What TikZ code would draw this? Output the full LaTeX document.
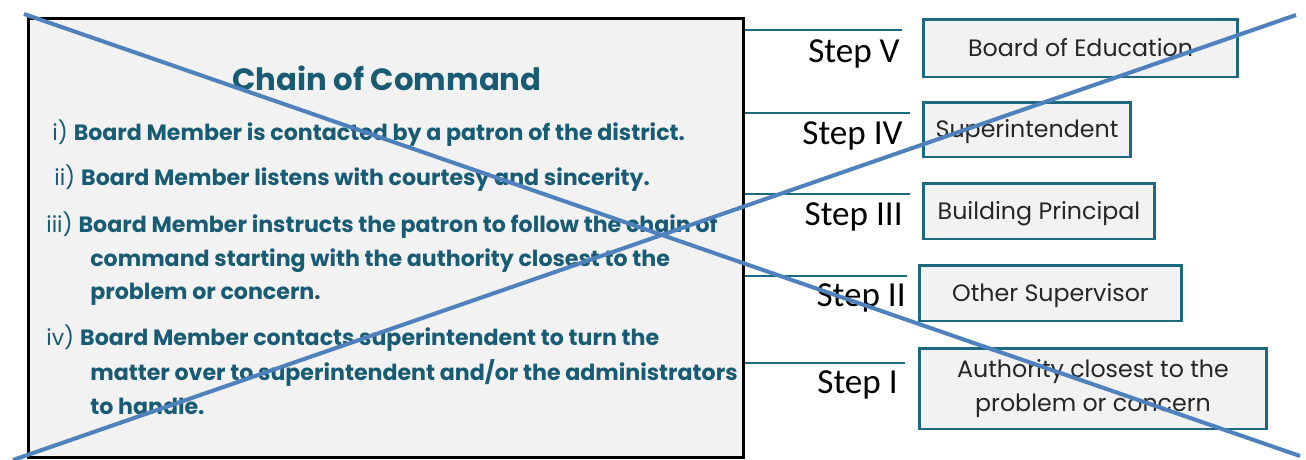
\documentclass[tikz,border=0pt]{standalone}
\usepackage{fontspec}
\setmainfont{Poppins}
\newfontfamily\gothic{Poppins}
\newfontfamily\calib{Carlito}
\definecolor{tealtxt}{HTML}{185B73}
\definecolor{tealline}{HTML}{1D6A80}
\definecolor{boxfill}{HTML}{F2F2F2}
\definecolor{crossblue}{HTML}{4F81BD}
\tikzset{
  mainbox/.style={draw=black, line width=1.7pt, fill=boxfill, inner sep=0pt},
  stepbox/.style={draw=tealline, line width=1.7pt, fill=boxfill, inner sep=0pt, align=center,
    font=\gothic\fontsize{13.5}{19.3}\selectfont, text=black!85},
  onestep/.style={stepbox, text height=0.95em, text depth=0pt},
  steplabel/.style={anchor=base east, inner sep=0pt, font=\calib\fontsize{20}{24}\selectfont, text=black},
  tealrule/.style={draw=tealline, line width=1.7pt},
  bodytxt/.style={anchor=base west, inner sep=0pt, text=tealtxt, font=\gothic\fontsize{12.6}{15}\selectfont},
  crossline/.style={draw=crossblue, line width=2.3pt}
}
\begin{document}
\begin{tikzpicture}[x=0.02cm,y=-0.02cm]
\useasboundingbox (0,0) rectangle (1306,460);
% main panel
\node[mainbox, minimum width=14.32cm, minimum height=8.8cm] (main) at (386,238) {};
\node[anchor=base, inner sep=0pt, text=tealtxt, font=\gothic\bfseries\fontsize{17.5}{20}\selectfont] (title) at (387,90) {Chain of Command};
\node[bodytxt] (t1) at (52,140) {i) \textbf{Board Member is contacted by a patron of the district.}};
\node[bodytxt] (t2) at (54,185) {ii) \textbf{Board Member listens with courtesy and sincerity.}};
\node[bodytxt] (t3) at (46,232) {iii) \textbf{Board Member instructs the patron to follow the chain of}};
\node[bodytxt] (t3b) at (90,266) {\textbf{command starting with the authority closest to the}};
\node[bodytxt] (t3c) at (90,299) {\textbf{problem or concern.}};
\node[bodytxt] (t4) at (46,345) {iv) \textbf{Board Member contacts superintendent to turn the}};
\node[bodytxt] (t4b) at (90,380) {\textbf{matter over to superintendent and/or the administrators}};
\node[bodytxt] (t4c) at (90,414) {\textbf{to handle.}};
% rules
\coordinate (r5) at (902,30);
\coordinate (r4) at (910,113);
\coordinate (r3) at (910,194);
\coordinate (r2) at (907,276);
\coordinate (r1) at (905,363);
\foreach \r in {r5,r4,r3,r2,r1}{
  \draw[tealrule] (main.east |- \r) -- (\r);
}
% step labels
\node[steplabel] (s5) at (900,62) {Step V};
\node[steplabel] (s4) at (903,144) {Step IV};
\node[steplabel] (s3) at (903,225) {Step III};
\node[steplabel] (s2) at (906,306) {Step II};
\node[steplabel] (s1) at (898,393) {Step I};
% step boxes
\node[onestep, minimum width=6.30cm, minimum height=1.16cm] (b5) at (1080.5,48) {Board of Education};
\node[onestep, minimum width=4.16cm, minimum height=1.10cm] (b4) at (1027,129.5) {Superintendent};
\node[onestep, minimum width=4.64cm, minimum height=1.12cm] (b3) at (1039,211) {Building Principal};
\node[onestep, minimum width=5.26cm, minimum height=1.12cm] (b2) at (1050.5,293) {Other Supervisor};
\node[stepbox, minimum width=6.96cm, minimum height=1.62cm] (b1) at (1093,388.5) {Authority closest to the\\problem or concern};
% cross
\draw[crossline] (24,14) -- (1300,456);
\draw[crossline] (13,460) -- (1296,15);
\end{tikzpicture}
\end{document}
